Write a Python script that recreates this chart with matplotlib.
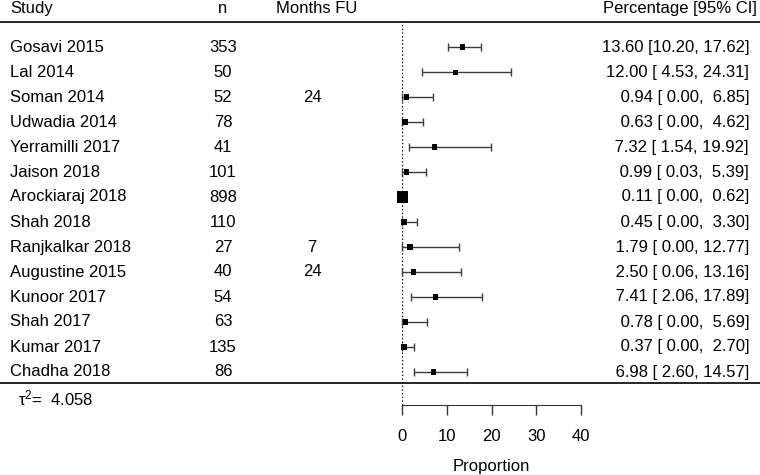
#!/usr/bin/env python

import numpy as np
import matplotlib
matplotlib.use("Agg")
from matplotlib import pyplot as plt
from matplotlib import transforms

plt.rcParams['font.family'] = ['Liberation Sans', 'DejaVu Sans']
plt.rcParams['mathtext.fontset'] = 'custom'
plt.rcParams['mathtext.rm'] = 'Liberation Sans'
plt.rcParams['mathtext.it'] = 'Liberation Sans:italic'

## Datos del forest plot
studies = ["Gosavi 2015", "Lal 2014", "Soman 2014", "Udwadia 2014", "Yerramilli 2017",
           "Jaison 2018", "Arockiaraj 2018", "Shah 2018", "Ranjkalkar 2018",
           "Augustine 2015", "Kunoor 2017", "Shah 2017", "Kumar 2017", "Chadha 2018"]
n = [353, 50, 52, 78, 41, 101, 898, 110, 27, 40, 54, 63, 135, 86]
months_fu = ["", "", "24", "", "", "", "", "", "7", "24", "", "", "", ""]
est = [13.60, 12.00, 0.94, 0.63, 7.32, 0.99, 0.11, 0.45, 1.79, 2.50, 7.41, 0.78, 0.37, 6.98]
ci_lo = [10.20, 4.53, 0.00, 0.00, 1.54, 0.03, 0.00, 0.00, 0.00, 0.06, 2.06, 0.00, 0.00, 2.60]
ci_hi = [17.62, 24.31, 6.85, 4.62, 19.92, 5.39, 0.62, 3.30, 12.77, 13.16, 17.89, 5.69, 2.70, 14.57]
tau2 = 4.058
xticks = [0, 10, 20, 30, 40]


def main():
    fig = plot_forest()
    fig.savefig("out.png", dpi=100)


def plot_forest(fig_size=(7.6, 4.75)):
    W, H = 760, 475
    fig = plt.figure(figsize=fig_size, dpi=100)
    ax = fig.add_axes([402 / W, (H - 405) / H, 179 / W, (405 - 22) / H])

    y = np.arange(len(studies))
    e = np.array(est)
    lo = np.array(ci_lo)
    hi = np.array(ci_hi)

    ax.set_xlim(0, 40)
    ax.set_ylim(14.32, -1)

    ## Linea de referencia en 0
    ax.axvline(0, ls=":", color="k", lw=1)

    ## Intervalos de confianza
    ax.errorbar(e, y, xerr=[e - lo, hi - e], fmt="none", ecolor="#3a3a3a",
                elinewidth=1, capsize=2.6, capthick=1, clip_on=False)

    ## Tamano del cuadrado segun el peso (1/se)
    p = e / 100
    w = 1 / np.sqrt(p * (1 - p) / np.array(n))
    px = 5 + 6.5 * (w - w.min()) / (w.max() - w.min())
    ax.scatter(e, y, marker="s", s=(px * 0.72) ** 2, color="k", zorder=3,
               linewidths=0, clip_on=False)

    ## Eje
    for s in ["top", "left", "right"]:
        ax.spines[s].set_visible(False)
    ax.spines["bottom"].set_bounds(0, 40)
    ax.spines["bottom"].set_color("#333333")
    ax.set_xticks(xticks)
    ax.set_yticks([])
    ax.tick_params(axis="x", direction="out", length=7.2, width=1,
                   color="#333333", pad=10, labelsize=12)
    ax.set_xlabel("Proportion", fontsize=12, labelpad=11)

    ## Tabla de texto
    tr = transforms.blended_transform_factory(fig.transFigure, ax.transData)
    fs = 12
    hy = -1.56
    ax.text(10 / W, hy, "Study", transform=tr, ha="left", va="center", fontsize=fs)
    ax.text(223 / W, hy, "n", transform=tr, ha="center", va="center", fontsize=fs)
    ax.text(317 / W, hy, "Months FU", transform=tr, ha="center", va="center", fontsize=fs)
    ax.text(757 / W, hy, "Percentage [95% CI]", transform=tr, ha="right",
            va="center", fontsize=fs)

    for i in range(len(studies)):
        ax.text(10 / W, i, studies[i], transform=tr, ha="left", va="center", fontsize=fs)
        ax.text(223 / W, i, str(n[i]), transform=tr, ha="center", va="center", fontsize=fs)
        ax.text(312 / W, i, months_fu[i], transform=tr, ha="center", va="center", fontsize=fs)
        label = "{:5.2f} [{:5.2f}, {:5.2f}]".format(est[i], ci_lo[i], ci_hi[i])
        ax.text(749 / W, i, label, transform=tr, ha="right", va="center", fontsize=fs)

    ax.text(18 / W, 14.04, "\u03c4$^2$=  " + "{:.3f}".format(tau2), transform=tr,
            ha="left", va="center", fontsize=fs)

    ## Lineas horizontales
    ax.plot([0, 1], [-1, -1], transform=tr, color="k", lw=1.2, clip_on=False)
    ax.plot([0, 1], [13.44, 13.44], transform=tr, color="k", lw=1.2, clip_on=False)

    return fig


if __name__ == "__main__":
    main()
